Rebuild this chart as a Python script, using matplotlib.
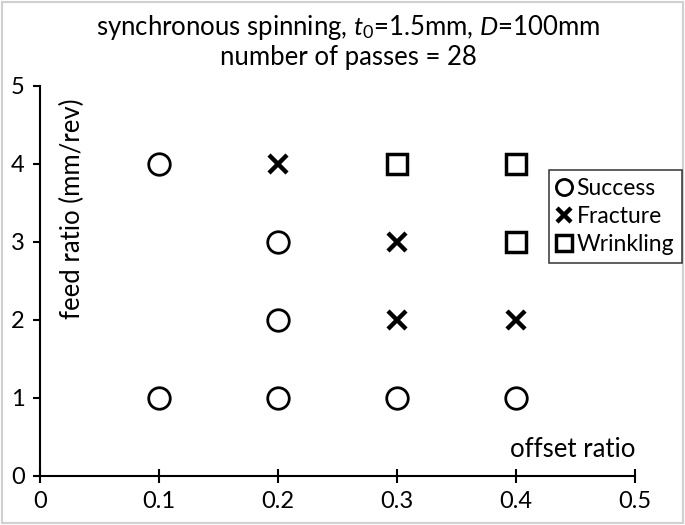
import matplotlib
matplotlib.use("Agg")
import matplotlib.pyplot as plt
from matplotlib.patches import Rectangle

plt.rcParams['font.family'] = ['Lato', 'DejaVu Sans']
plt.rcParams['mathtext.fontset'] = 'custom'
plt.rcParams['mathtext.rm'] = 'Lato'
plt.rcParams['mathtext.it'] = 'Lato:italic'

# data
success_x = [0.1, 0.2, 0.2, 0.1, 0.2, 0.3, 0.4]
success_y = [4, 3, 2, 1, 1, 1, 1]
fracture_x = [0.2, 0.3, 0.3, 0.4]
fracture_y = [4, 3, 2, 2]
wrinkle_x = [0.3, 0.4, 0.4]
wrinkle_y = [4, 4, 3]
x_ticks = [0, 0.1, 0.2, 0.3, 0.4, 0.5]
x_labels = ['0', '0.1', '0.2', '0.3', '0.4', '0.5']
y_ticks = [0, 1, 2, 3, 4, 5]

fig = plt.figure(figsize=(6.85, 5.25), dpi=100)
ax = fig.add_axes([40/685, 49/525, 595/685, 390/525])

ax.plot(success_x, success_y, 'o', ms=15.5, mfc='white', mec='black', mew=2,
        ls='none', label='Success')
ax.plot(fracture_x, fracture_y, 'x', ms=13.5, mec='black', mew=3.2,
        ls='none', label='Fracture')
ax.plot(wrinkle_x, wrinkle_y, 's', ms=14.5, mfc='white', mec='black', mew=2.5,
        ls='none', label='Wrinkling')

ax.set_xlim(0, 0.5)
ax.set_ylim(0, 5)
ax.set_xticks(x_ticks)
ax.set_xticklabels(x_labels)
ax.set_yticks(y_ticks)
ax.spines['top'].set_visible(False)
ax.spines['right'].set_visible(False)
for s in ['left', 'bottom']:
    ax.spines[s].set_linewidth(1.5)
ax.tick_params(axis='x', direction='inout', length=10, width=1.5, labelsize=17, pad=6)
ax.tick_params(axis='y', direction='out', length=5, width=1.5, labelsize=17, pad=6)

ax.text(32/595, 267/390, 'feed ratio (mm/rev)', transform=ax.transAxes,
        rotation=90, ha='center', va='center', fontsize=18.5)
ax.text(1.0, 0.035, 'offset ratio', transform=ax.transAxes,
        ha='right', va='bottom', fontsize=18.5)

fig.text(348/685, 1 - 27/525, r'synchronous spinning, $t_\mathit{0}$=1.5mm, $D$=100mm',
         ha='center', va='center', fontsize=18.5)
fig.text(348/685, 1 - 58/525, 'number of passes = 28',
         ha='center', va='center', fontsize=18.5)

leg = fig.legend(loc='upper left', bbox_to_anchor=(549/685, 1 - 170/525),
                 fontsize=16.5, frameon=True, fancybox=False, edgecolor='black',
                 handlelength=0.6, handletextpad=0.25, borderpad=0.35,
                 labelspacing=0.3, markerscale=0.75, borderaxespad=0)
leg.get_frame().set_linewidth(1.1)

fig.patches.append(Rectangle((0.003, 0.004), 0.994, 0.992, transform=fig.transFigure,
                             fill=False, edgecolor='#d0d0d0', linewidth=1.5))

fig.savefig('out.png', dpi=100)
